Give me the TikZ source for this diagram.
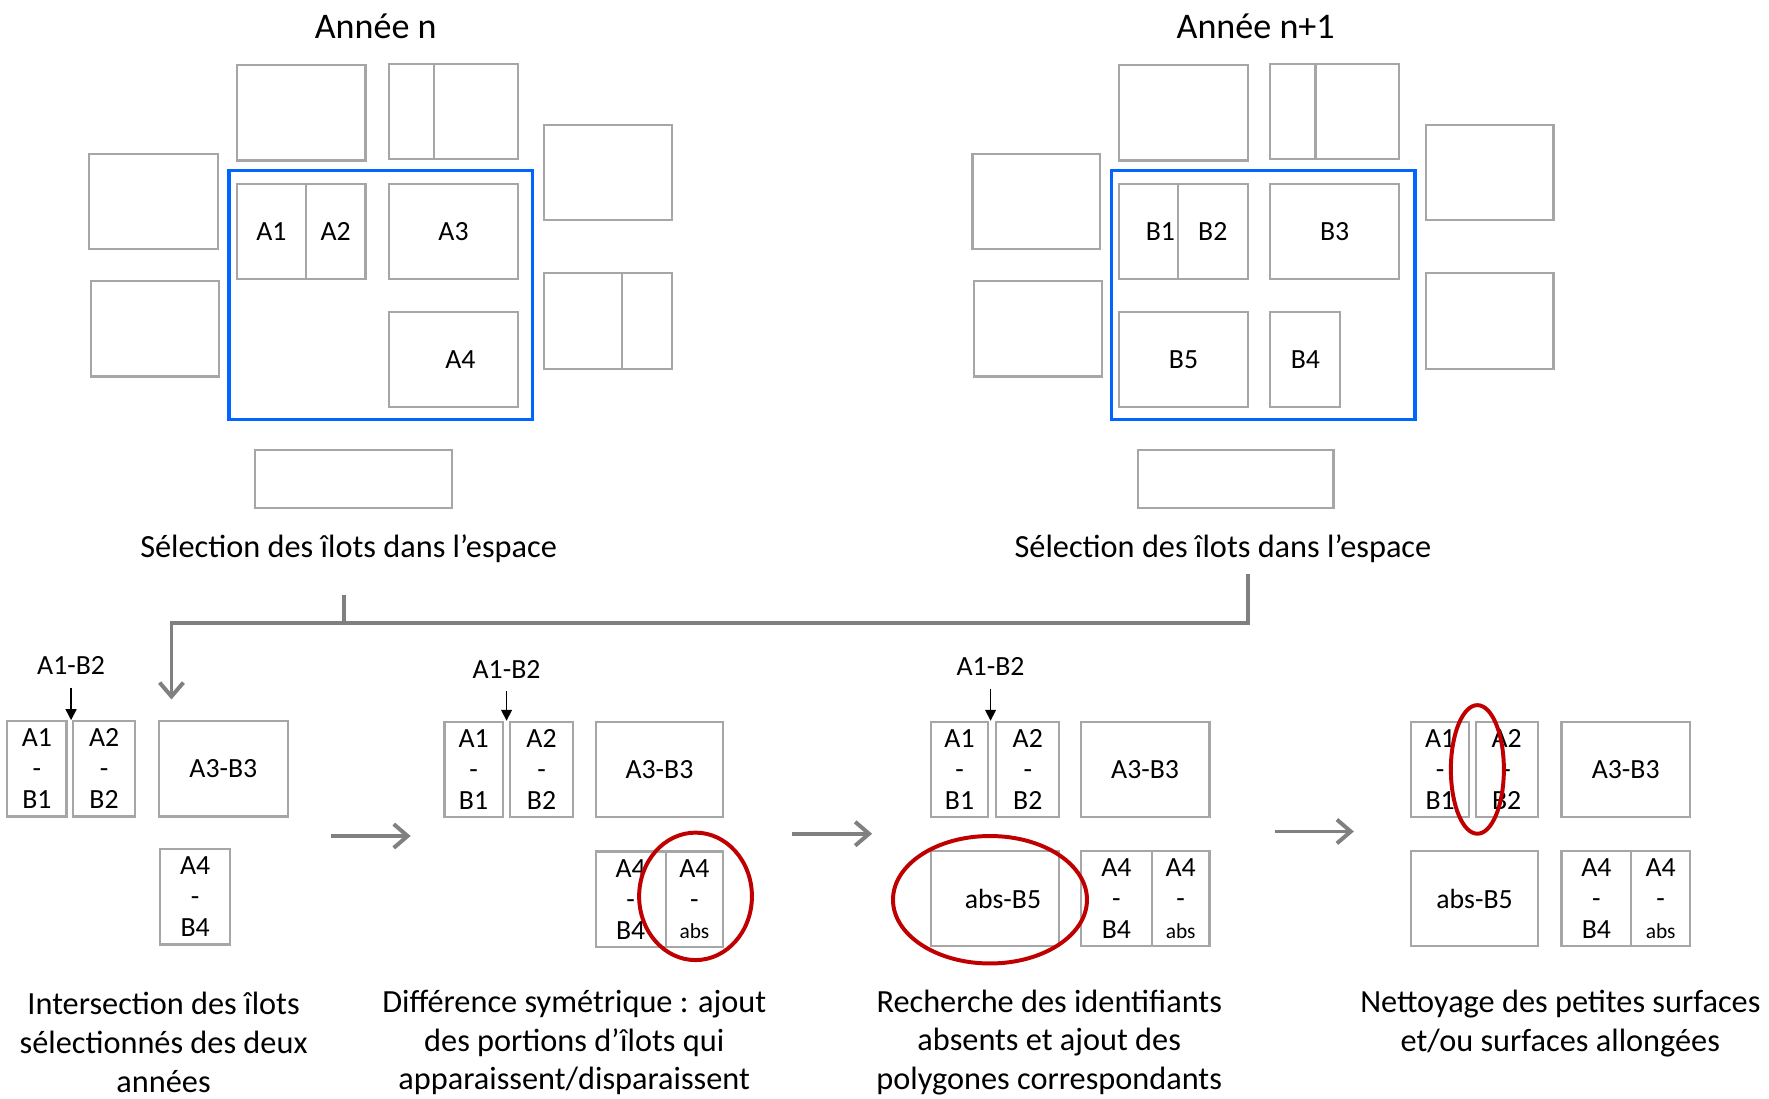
\documentclass[tikz,border=0pt]{standalone}
\usepackage{fontspec}
\setmainfont{Carlito}
\usepackage{xcolor}
\usepackage{tikz}
\usetikzlibrary{positioning,arrows.meta}
\definecolor{gristrait}{RGB}{166,166,166}
\definecolor{grisfleche}{RGB}{128,128,128}
\definecolor{bleusel}{RGB}{0,102,255}
\definecolor{rougecercle}{RGB}{192,0,0}
\tikzstyle{ilot}=[rectangle, draw=gristrait, line width=1.1pt, inner sep=0pt,
        minimum height=1.69cm, align=center, font=\fontsize{14}{15.6}\selectfont]
\tikzstyle{selection}=[rectangle, draw=bleusel, line width=1.8pt, inner sep=0pt,
        minimum width=5.38cm, minimum height=4.42cm]
\tikzstyle{titre}=[font=\fontsize{18.2}{21}\selectfont]
\tikzstyle{legende}=[align=center, inner sep=1pt, font=\fontsize{16.3}{19.6}\selectfont]
\tikzstyle{etiquette}=[font=\fontsize{14}{15.6}\selectfont]
\tikzstyle{fleche}=[draw=grisfleche, line width=2pt, -{Straight Barb[length=7pt,width=12pt]}]
\tikzstyle{pointe}=[line width=0.75pt, -{Triangle[length=5.5pt,width=5.5pt]}, shorten <=3pt]
\tikzstyle{cercle}=[draw=rougecercle, line width=2pt]
\newcommand{\petit}[1]{{\fontsize{10.8}{13}\selectfont #1}}

\begin{document}
\begin{tikzpicture}[x=0.02cm, y=-0.02cm]
        \useasboundingbox (0,0) rectangle (1568,974);

        \node (titreA) [titre] at (333,23) {Année n};
        \node (aH1) [ilot, minimum width=2.28cm] at (267,100) {};
        \node (aH2g) [ilot, minimum width=0.8cm] at (365,99) {};
        \node (aH2d) [ilot, minimum width=1.48cm] at (422,99) {};
        \node (aG1) [ilot, minimum width=2.28cm] at (136,178.5) {};
        \node (aG2) [ilot, minimum width=2.26cm] at (137.5,291.5) {};
        \node (aD1) [ilot, minimum width=2.28cm] at (539,153) {};
        \node (aD2g) [ilot, minimum width=1.38cm] at (516.5,284.5) {};
        \node (aD2d) [ilot, minimum width=0.9cm] at (573.5,284.5) {};
        \node (selA) [selection] at (337.5,261.5) {};
        \node (A1) [ilot, minimum width=1.22cm] at (240.5,205) {A1};
        \node (A2) [ilot, minimum width=1.06cm] at (297.5,205) {A2};
        \node (A3) [ilot, minimum width=2.28cm] at (402,205) {A3};
        \node (A4) [ilot, minimum width=2.28cm] at (402,318.5) {\hspace*{7pt}A4};
        \node (aBas) [ilot, minimum width=3.5cm, minimum height=1.02cm] at (313.5,424.5) {};
        \node (legA) [legende] at (309,486) {Sélection des îlots dans l’espace};

        \node (titreB) [titre] at (1113,23) {Année n+1};
        \node (bH1) [ilot, minimum width=2.28cm] at (1049,100) {};
        \node (bH2g) [ilot, minimum width=0.8cm] at (1146,99) {};
        \node (bH2d) [ilot, minimum width=1.48cm] at (1203,99) {};
        \node (bG1) [ilot, minimum width=2.26cm] at (918.5,178.5) {};
        \node (bG2) [ilot, minimum width=2.28cm] at (920,291.5) {};
        \node (bD1) [ilot, minimum width=2.26cm] at (1320.5,153) {};
        \node (bD2) [ilot, minimum width=2.26cm] at (1320.5,284.5) {};
        \node (selB) [selection] at (1119.5,261.5) {};
        \node (B1) [ilot, minimum width=1.04cm] at (1018,205) {\hspace*{12pt}B1};
        \node (B2) [ilot, minimum width=1.24cm] at (1075,205) {B2};
        \node (B3) [ilot, minimum width=2.28cm] at (1183,205) {B3};
        \node (B5) [ilot, minimum width=2.28cm] at (1049,318.5) {B5};
        \node (B4) [ilot, minimum width=1.24cm] at (1157,318.5) {B4};
        \node (bBas) [ilot, minimum width=3.46cm, minimum height=1.02cm] at (1095.5,424.5) {};
        \node (legB) [legende] at (1084,486) {Sélection des îlots dans l’espace};

        \coordinate (departA) at (305,527);
        \coordinate (departB) at (1106,509);
        \coordinate (jonction) at (152,552);
        \coordinate (arrivee) at (152,620);
        \draw[fleche, -] (departA) -- (departA |- jonction);
        \draw[fleche] (departB) |- (jonction) -- (arrivee);

        \node (p1lab) [etiquette] at (63,590) {A1-B2};
        \node (p1a1) [ilot, minimum width=1.05cm] at (32.75,681.5) {A1\\-\\B1};
        \node (p1a2) [ilot, minimum width=1.11cm] at (92.25,681.5) {A2\\-\\B2};
        \node (p1a3) [ilot, minimum width=2.28cm] at (198,681.5) {A3-B3};
        \node (p1a4) [ilot, minimum width=1.24cm] at (173,795) {A4\\-\\B4};
        \draw[pointe] (p1lab.south) -- (p1lab.south |- p1a1.north);
        \coordinate (p1s) at (293,741);
        \coordinate (p1e) at (364,741);
        \draw[fleche] (p1s) -- (p1e);

        \node (p2lab) [etiquette] at (449,593) {A1-B2};
        \node (p2a1) [ilot, minimum width=1.03cm] at (419.75,682) {A1\\-\\B1};
        \node (p2a2) [ilot, minimum width=1.12cm] at (480,682) {A2\\-\\B2};
        \node (p2a3) [ilot, minimum width=2.26cm] at (584.5,682) {A3-B3};
        \node (p2a4) [ilot, minimum width=1.24cm] at (559,797) {A4\\-\\B4};
        \node (p2abs) [ilot, minimum width=1.02cm] at (615.5,797) {A4\\-\\\petit{abs}};
        \draw[pointe] (p2lab.south) -- (p2lab.south |- p2a1.north);
        \draw[cercle] (616.5,794.5) ellipse [x radius=1cm, y radius=1.13cm];
        \coordinate (p2s) at (702,739);
        \coordinate (p2e) at (773,739);
        \draw[fleche] (p2s) -- (p2e);

        \node (p3lab) [etiquette] at (878,591) {A1-B2};
        \node (p3a1) [ilot, minimum width=1.02cm] at (850.5,682) {A1\\-\\B1};
        \node (p3a2) [ilot, minimum width=1.12cm] at (911,682) {A2\\-\\B2};
        \node (p3a3) [ilot, minimum width=2.28cm] at (1015,682) {A3-B3};
        \node (p3b5) [ilot, minimum width=2.28cm] at (882,796.5) {\hspace*{8pt}abs-B5};
        \node (p3a4) [ilot, minimum width=1.26cm] at (989.5,796.5) {A4\\-\\B4};
        \node (p3abs) [ilot, minimum width=1.02cm] at (1046.5,796.5) {A4\\-\\\petit{abs}};
        \draw[pointe] (p3lab.south) -- (p3lab.south |- p3a1.north);
        \draw[cercle] (877.5,797.5) ellipse [x radius=1.72cm, y radius=1.13cm];
        \coordinate (p3s) at (1130,737);
        \coordinate (p3e) at (1200,737);
        \draw[fleche] (p3s) -- (p3e);

        \node (p4a1) [ilot, minimum width=1.02cm] at (1276.5,682) {A1\\-\\B1};
        \node (p4a2) [ilot, minimum width=1.1cm] at (1335.5,682) {A2\\-\\B2};
        \node (p4a3) [ilot, minimum width=2.28cm] at (1441,682) {A3-B3};
        \node (p4b5) [ilot, minimum width=2.24cm] at (1307,796.5) {abs-B5};
        \node (p4a4) [ilot, minimum width=1.24cm] at (1415,796.5) {A4\\-\\B4};
        \node (p4abs) [ilot, minimum width=1.04cm] at (1472,796.5) {A4\\-\\\petit{abs}};
        \draw[cercle] (1309.5,682) ellipse [x radius=0.47cm, y radius=1.14cm];

        \node (leg1) [legende] at (145,924) {Intersection des îlots\\sélectionnés des deux\\années};
        \node (leg2) [legende] at (509,924) {Différence symétrique : ajout\\des portions d’îlots qui\\apparaissent/disparaissent};
        \node (leg3) [legende] at (930,924) {Recherche des identifiants\\absents et ajout des\\polygones correspondants};
        \node (leg4) [legende] at (1383,907) {Nettoyage des petites surfaces\\et/ou surfaces allongées};
      \end{tikzpicture}
\end{document}
